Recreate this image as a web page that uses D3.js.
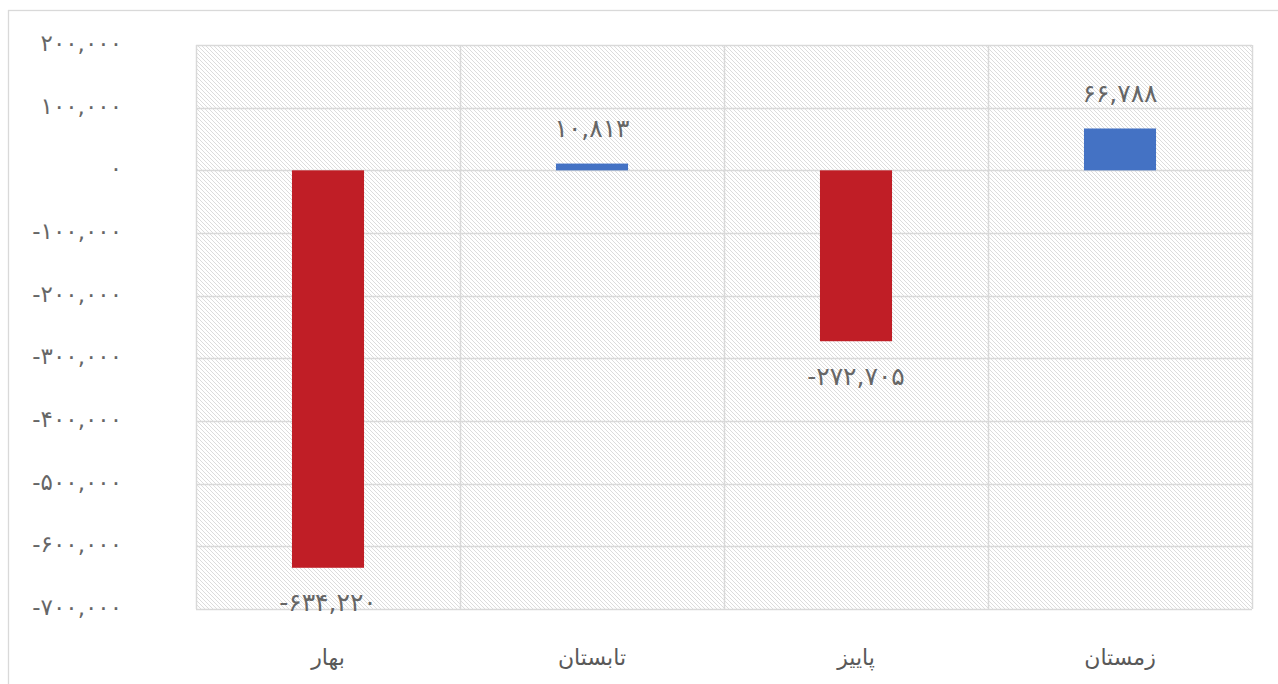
<!DOCTYPE html>
<html><head><meta charset="utf-8">
<script src="https://cdn.jsdelivr.net/npm/d3@7"></script>
<style>html,body{margin:0;padding:0;background:#fff;}svg{display:block;}</style>
</head><body>
<svg id="c" width="1278" height="684"></svg>
<script>
const categories = ["بهار", "تابستان", "پاییز", "زمستان"];
const values = [-634220, 10813, -272705, 66788];
const yTicks = [200000, 100000, 0, -100000, -200000, -300000, -400000, -500000, -600000, -700000];

const fa = s => String(s).replace(/[0-9]/g, d => "۰۱۲۳۴۵۶۷۸۹"[+d]);
const fmt = v => (v < 0 ? "-" : "") + fa(d3.format(",")(Math.abs(v)));

const svg = d3.select("#c");
const m = {left: 196, right: 1252, top: 45, bottom: 609};

svg.append("rect").attr("x", 8.5).attr("y", 10.5).attr("width", 1300).attr("height", 700)
  .attr("fill", "#fff").attr("stroke", "#d9d9d9").attr("stroke-width", 1.3);

const defs = svg.append("defs");
const pat = defs.append("pattern").attr("id", "hatch").attr("patternUnits", "userSpaceOnUse")
  .attr("width", 4).attr("height", 4);
pat.append("rect").attr("width", 4).attr("height", 4).attr("fill", "#fff");
pat.append("path").attr("d", "M-1,-1 L5,5 M3,-1 L5,1 M-1,3 L1,5")
  .attr("stroke", "#dcdcdc").attr("stroke-width", 1);

const x = d3.scaleBand().domain(categories).range([m.left, m.right]).paddingInner(0).paddingOuter(0);
const y = d3.scaleLinear().domain([-700000, 200000]).range([m.bottom, m.top]);

svg.append("rect").attr("x", m.left).attr("y", m.top).attr("width", m.right - m.left)
  .attr("height", m.bottom - m.top).attr("fill", "url(#hatch)");

const g = svg.append("g");
g.selectAll("line.h").data(yTicks).join("line").attr("class", "h")
  .attr("x1", m.left).attr("x2", m.right)
  .attr("y1", d => Math.round(y(d)) + 0.5).attr("y2", d => Math.round(y(d)) + 0.5)
  .attr("stroke", "#d9d9d9").attr("stroke-width", 1.5);
const vlines = categories.map(c => x(c)).concat([m.right]);
g.selectAll("line.v").data(vlines).join("line").attr("class", "v")
  .attr("x1", d => Math.round(d) + 0.5).attr("x2", d => Math.round(d) + 0.5)
  .attr("y1", m.top).attr("y2", m.bottom)
  .attr("stroke", "#d9d9d9").attr("stroke-width", 1.5);

const bw = x.bandwidth() * 0.273;
svg.selectAll("rect.bar").data(values).join("rect").attr("class", "bar")
  .attr("x", (d, i) => x(categories[i]) + x.bandwidth() / 2 - bw / 2)
  .attr("width", bw)
  .attr("y", d => y(Math.max(0, d)))
  .attr("height", d => Math.abs(y(d) - y(0)))
  .attr("fill", d => d < 0 ? "#c01e26" : "#4472c4");

svg.selectAll("text.dl").data(values).join("text").attr("class", "dl")
  .attr("x", (d, i) => x(categories[i]) + x.bandwidth() / 2)
  .attr("y", d => d < 0 ? y(d) + 35 : y(d) - 35)
  .attr("text-anchor", "middle").attr("dominant-baseline", "central")
  .attr("direction", "ltr").attr("unicode-bidi", "bidi-override")
  .attr("font-family", "DejaVu Sans")
  .attr("font-size", 25).attr("fill", "#666")
  .text(d => fmt(d));

svg.selectAll("text.yt").data(yTicks).join("text").attr("class", "yt")
  .attr("x", 122).attr("y", d => y(d) - 2)
  .attr("text-anchor", "end").attr("dominant-baseline", "central")
  .attr("direction", "ltr").attr("unicode-bidi", "bidi-override")
  .attr("font-family", "DejaVu Sans")
  .attr("font-size", 23).attr("letter-spacing", 1.2).attr("fill", "#666")
  .text(d => fmt(d));

svg.selectAll("text.cat").data(categories).join("text").attr("class", "cat")
  .attr("x", d => x(d) + x.bandwidth() / 2).attr("y", 657)
  .attr("text-anchor", "middle").attr("dominant-baseline", "central")
  .attr("font-family", "DejaVu Sans")
  .attr("font-size", 22).attr("fill", "#595959")
  .text(d => d);
</script>
</body></html>
